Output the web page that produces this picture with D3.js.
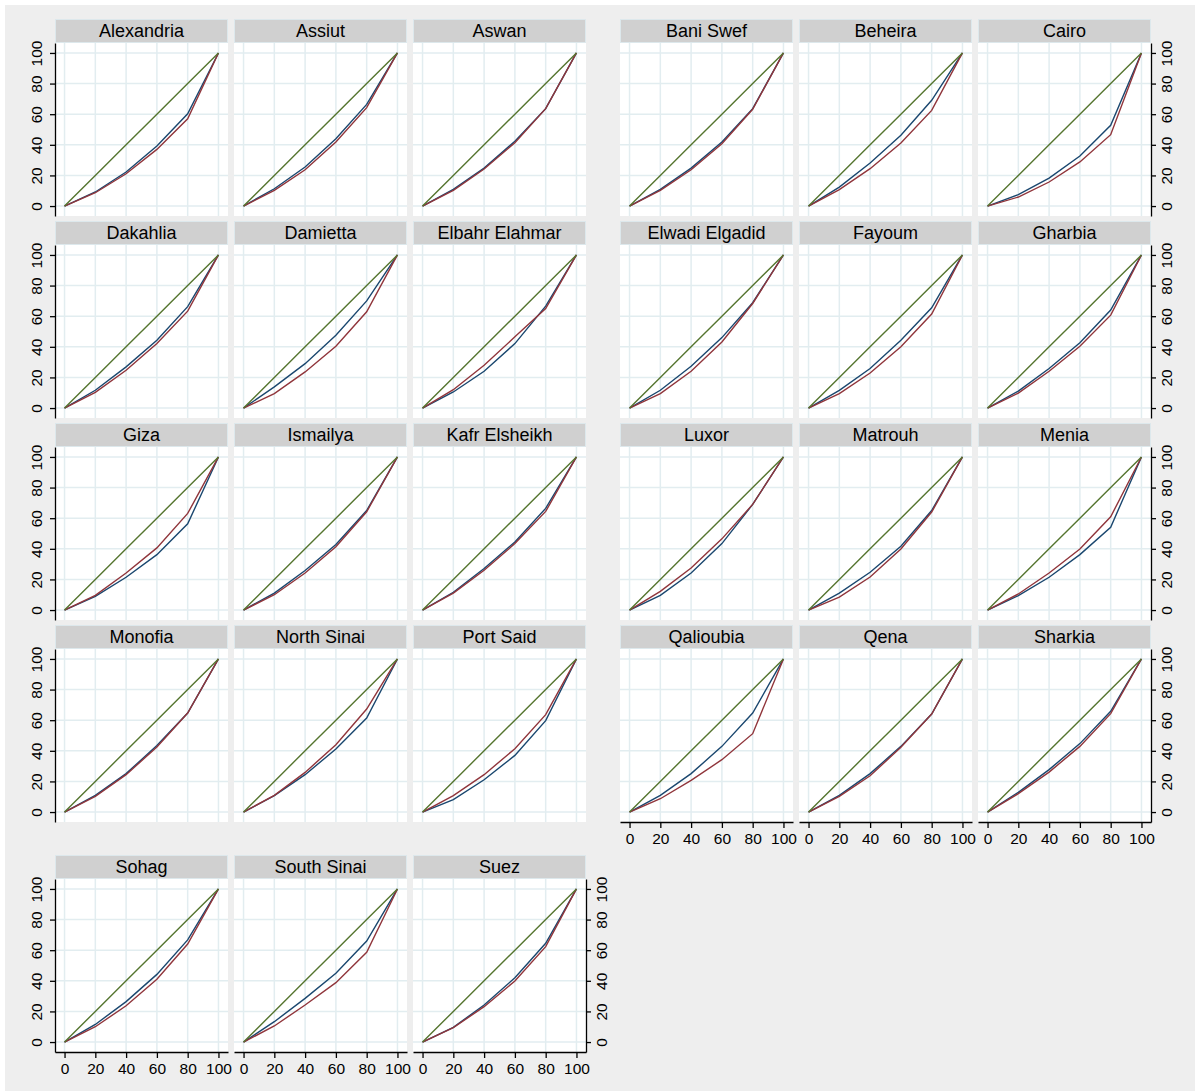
<!DOCTYPE html>
<html lang="en">
<head>
<meta charset="UTF-8">
<title>Lorenz curves by governorate</title>
<script src="https://d3js.org/d3.v7.min.js"></script>
<style>
  body { margin: 0; background: #ffffff; }
  text { font-family: "Liberation Sans", Arial, Helvetica, sans-serif; }
</style>
</head>
<body>
<div id="chart"></div>
<script>
// governorates, in panel order
const regions = ["Alexandria", "Assiut", "Aswan", "Bani Swef", "Beheira", "Cairo",
  "Dakahlia", "Damietta", "Elbahr Elahmar", "Elwadi Elgadid", "Fayoum", "Gharbia",
  "Giza", "Ismailya", "Kafr Elsheikh", "Luxor", "Matrouh", "Menia",
  "Monofia", "North Sinai", "Port Said", "Qalioubia", "Qena", "Sharkia",
  "Sohag", "South Sinai", "Suez"];

// cumulative population share (x)
const popShare = [0, 20, 40, 60, 80, 100];
// line of equality
const equality = [0, 20, 40, 60, 80, 100];

// blue curve (navy)
const blueCurve = [
  [0, 9.2, 22.2, 39.2, 60.3, 100],   // Alexandria
  [0, 11.3, 25.5, 44.0, 66.4, 100],  // Assiut
  [0, 10.9, 24.8, 42.3, 63.6, 100],  // Aswan
  [0, 10.9, 24.8, 41.8, 63.6, 100],  // Bani Swef
  [0, 12.4, 28.1, 46.2, 69.1, 100],  // Beheira
  [0, 7.4, 18.3, 32.7, 52.7, 100],   // Cairo
  [0, 11.6, 26.9, 44.3, 66.2, 100],  // Dakahlia
  [0, 13.8, 29.0, 47.6, 70.0, 100],  // Damietta
  [0, 10.5, 24.0, 42.1, 66.6, 100],  // Elbahr Elahmar
  [0, 11.6, 27.3, 46.0, 68.8, 100],  // Elwadi Elgadid
  [0, 11.6, 25.8, 44.3, 65.5, 100],  // Fayoum
  [0, 11.1, 25.8, 42.6, 64.0, 100],  // Gharbia
  [0, 9.0, 21.4, 36.2, 56.3, 100],   // Giza
  [0, 11.1, 25.8, 42.8, 65.0, 100],  // Ismailya
  [0, 11.6, 27.1, 44.5, 66.4, 100],  // Kafr Elsheikh
  [0, 9.6, 24.2, 43.4, 69.0, 100],   // Luxor
  [0, 11.1, 24.7, 41.7, 65.0, 100],  // Matrouh
  [0, 9.4, 21.4, 36.2, 54.1, 100],   // Menia
  [0, 10.9, 25.1, 43.4, 64.7, 100],  // Monofia
  [0, 10.7, 24.4, 41.2, 61.4, 100],  // North Sinai
  [0, 8.1, 21.1, 37.0, 59.7, 100],   // Port Said
  [0, 10.9, 25.1, 42.9, 64.7, 100],  // Qalioubia
  [0, 10.9, 25.1, 42.9, 64.0, 100],  // Qena
  [0, 12.9, 27.7, 44.7, 65.8, 100],  // Sharkia
  [0, 11.5, 26.4, 44.2, 66.7, 100],  // Sohag
  [0, 13.3, 28.5, 44.9, 66.0, 100],  // South Sinai
  [0, 9.6, 24.2, 42.0, 64.5, 100]    // Suez
];

// red curve (maroon)
const redCurve = [
  [0, 8.7, 21.1, 37.0, 57.0, 100],
  [0, 10.2, 23.7, 41.8, 64.3, 100],
  [0, 10.2, 24.2, 41.4, 63.6, 100],
  [0, 10.2, 23.7, 40.7, 63.2, 100],
  [0, 10.7, 24.4, 41.2, 62.5, 100],
  [0, 5.9, 15.7, 28.8, 46.6, 100],
  [0, 10.3, 24.7, 42.1, 63.3, 100],
  [0, 9.4, 23.6, 40.4, 62.9, 100],
  [0, 12.0, 28.0, 46.5, 65.0, 100],
  [0, 9.4, 24.0, 43.2, 68.3, 100],
  [0, 9.4, 22.9, 40.0, 61.4, 100],
  [0, 9.8, 24.0, 40.4, 60.7, 100],
  [0, 9.6, 24.2, 40.6, 63.1, 100],
  [0, 10.0, 24.2, 41.3, 64.2, 100],
  [0, 11.1, 26.0, 43.4, 64.4, 100],
  [0, 12.2, 27.5, 46.5, 69.0, 100],
  [0, 8.5, 21.6, 39.9, 64.0, 100],
  [0, 10.5, 24.2, 39.9, 60.9, 100],
  [0, 10.2, 24.4, 42.5, 64.7, 100],
  [0, 10.9, 25.9, 44.0, 67.3, 100],
  [0, 10.7, 24.4, 41.4, 63.6, 100],
  [0, 8.7, 20.7, 34.2, 51.2, 100],
  [0, 10.2, 23.7, 42.3, 64.0, 100],
  [0, 12.0, 26.1, 42.9, 64.3, 100],
  [0, 10.0, 23.7, 41.0, 64.0, 100],
  [0, 10.5, 24.2, 38.8, 58.6, 100],
  [0, 9.4, 23.1, 39.9, 62.3, 100]
];

const tickValues = [0, 20, 40, 60, 80, 100];

// layout
const W = 1195, H = 1091;
const panelW = 173, plotH = 173, stripH = 24;
const colLeft = [55, 234, 413, 620, 799, 978];
const rowTop = [19, 221, 423, 625, 855];

const navy = "#1a476f", maroon = "#90353b", green = "#55752f";
const gridColor = "#e2edf0";

const svg = d3.select("#chart").append("svg")
  .attr("width", W).attr("height", H);

svg.append("rect")
  .attr("x", 5).attr("y", 5)
  .attr("width", W - 5).attr("height", H - 5)
  .attr("fill", "#eeeeee");

const x = d3.scaleLinear().domain([-6.2, 106.2]).range([0, panelW]);
const y = d3.scaleLinear().domain([-6.5, 106.5]).range([plotH, 0]);

regions.forEach((name, i) => {
  let row, col;
  if (i < 24) { row = Math.floor(i / 6); col = i % 6; }
  else { row = 4; col = i - 24; }

  const g = svg.append("g")
    .attr("transform", `translate(${colLeft[col]},${rowTop[row]})`);

  // strip
  g.append("rect")
    .attr("x", 0.5).attr("y", 0.5)
    .attr("width", panelW - 1).attr("height", stripH - 1)
    .attr("fill", "#d0d0d0")
    .attr("stroke", "#dde8ec")
    .attr("stroke-width", 1);

  g.append("text")
    .attr("x", panelW / 2).attr("y", stripH / 2)
    .attr("dy", "0.36em")
    .attr("text-anchor", "middle")
    .attr("font-size", 18)
    .attr("fill", "#000")
    .text(name);

  const p = g.append("g").attr("transform", `translate(0,${stripH})`);

  p.append("rect")
    .attr("width", panelW).attr("height", plotH)
    .attr("fill", "#ffffff");

  // grid
  p.selectAll(".gx").data(tickValues).enter().append("line")
    .attr("x1", d => x(d)).attr("x2", d => x(d))
    .attr("y1", 0).attr("y2", plotH)
    .attr("stroke", gridColor).attr("stroke-width", 1.5);
  p.selectAll(".gy").data(tickValues).enter().append("line")
    .attr("y1", d => y(d)).attr("y2", d => y(d))
    .attr("x1", 0).attr("x2", panelW)
    .attr("stroke", gridColor).attr("stroke-width", 1.5);

  const line = d3.line()
    .x((d, k) => x(popShare[k]))
    .y(d => y(d));

  p.append("path").datum(blueCurve[i])
    .attr("fill", "none").attr("stroke", navy).attr("stroke-width", 1.4)
    .attr("d", line);
  p.append("path").datum(redCurve[i])
    .attr("fill", "none").attr("stroke", maroon).attr("stroke-width", 1.4)
    .attr("d", line);
  p.append("path").datum(equality)
    .attr("fill", "none").attr("stroke", green).attr("stroke-width", 1.4)
    .attr("d", line);

  // axes
  const styleAxis = a => {
    a.select(".domain").attr("stroke", "#000").attr("stroke-width", 1.3);
    a.selectAll(".tick line").attr("stroke", "#000").attr("stroke-width", 1.3);
    a.selectAll(".tick text").attr("font-size", 15.5).attr("fill", "#000")
      .attr("font-family", "Liberation Sans, Arial, sans-serif");
  };

  if (col === 0) {
    const a = p.append("g")
      .call(d3.axisLeft(y).tickValues(tickValues).tickSize(5).tickSizeOuter(0).tickPadding(6));
    styleAxis(a);
    a.selectAll(".tick text")
      .attr("x", null).attr("dy", null)
      .attr("text-anchor", "middle")
      .attr("transform", "translate(-18,0) rotate(-90)")
      .attr("dy", "0.35em");
  }
  if (col === 5 || i === regions.length - 1) {
    const a = p.append("g")
      .attr("transform", `translate(${panelW},0)`)
      .call(d3.axisRight(y).tickValues(tickValues).tickSize(5).tickSizeOuter(0).tickPadding(6));
    styleAxis(a);
    a.selectAll(".tick text")
      .attr("x", null).attr("dy", null)
      .attr("text-anchor", "middle")
      .attr("transform", "translate(16,0) rotate(-90)")
      .attr("dy", "0.35em");
  }
  if (row === 4 || (row === 3 && col >= 3)) {
    const a = p.append("g")
      .attr("transform", `translate(0,${plotH})`)
      .call(d3.axisBottom(x).tickValues(tickValues).tickSize(6).tickSizeOuter(0).tickPadding(5));
    styleAxis(a);
  }
});
</script>
</body>
</html>
